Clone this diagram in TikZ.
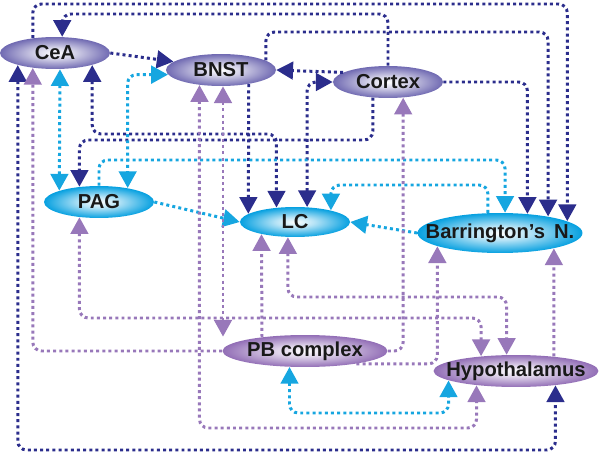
\documentclass[tikz,border=0pt]{standalone}
\usepackage{fontspec}
\setmainfont{Liberation Sans}
\usepackage{tikz}
\usetikzlibrary{arrows.meta,shapes.geometric}
\definecolor{navyln}{RGB}{43,45,140}
\definecolor{cyanln}{RGB}{22,166,224}
\definecolor{lilacln}{RGB}{152,120,186}
\definecolor{slateel}{RGB}{112,106,178}
\definecolor{violetel}{RGB}{146,110,182}
\definecolor{cyanel}{RGB}{6,160,224}
\colorlet{slatelt}{white!70!slateel}
\colorlet{violetlt}{white!70!violetel}
\colorlet{cyanlt}{white!70!cyanel}
\pgfdeclareradialshading{slateglow}{\pgfpoint{0bp}{0bp}}{color(0bp)=(white); color(9bp)=(slatelt); color(25bp)=(slateel); color(50bp)=(slateel)}
\pgfdeclareradialshading{violetglow}{\pgfpoint{0bp}{0bp}}{color(0bp)=(white); color(9bp)=(violetlt); color(25bp)=(violetel); color(50bp)=(violetel)}
\pgfdeclareradialshading{cyanglow}{\pgfpoint{0bp}{0bp}}{color(0bp)=(white); color(9bp)=(cyanlt); color(25bp)=(cyanel); color(50bp)=(cyanel)}
\tikzset{
  >={Triangle[width=10pt,length=9.5pt]},
  area/.style={ellipse, inner sep=0pt, minimum width=2.2cm, minimum height=0.64cm},
  wide/.style={minimum width=3.3cm},
  lbl/.style={font=\bfseries\fontsize{11.5}{13}\selectfont, text=black!90},
  wire/.style={line width=1.7pt, dash pattern=on 1.7pt off 1.8pt, rounded corners=5pt},
  nv/.style={wire, navyln},
  cy/.style={wire, cyanln},
  pu/.style={wire, lilacln}
}

\begin{document}
\begin{tikzpicture}[x=0.02cm, y=-0.02cm]
\useasboundingbox (0,0) rectangle (600,453);

\node[area, shading=slateglow, label={[lbl]center:CeA}] (cea) at (55,53) {};
\node[area, shading=slateglow, label={[lbl]center:BNST}] (bnst) at (221,70) {};
\node[area, shading=slateglow, label={[lbl]center:Cortex}] (ctx) at (388,82) {};
\node[area, shading=cyanglow, label={[lbl]center:PAG}] (pag) at (99,202) {};
\node[area, shading=cyanglow, minimum height=0.6cm, label={[lbl]center:LC}] (lc) at (295,222) {};
\node[area, wide, shading=cyanglow, minimum height=0.8cm, label={[lbl]center:Barrington’s\hspace{0.45em}N.}] (bar) at (500,233) {};
\node[area, wide, shading=violetglow, label={[lbl]center:PB complex}] (pb) at (305,351) {};
\node[area, wide, shading=violetglow, label={[lbl]center:Hypothalamus}] (hyp) at (516,371) {};

\draw[nv,->] (cea.146) |- (300,4) -| (bar.10);
\draw[nv,->] (ctx.north) |- (200,14) -| (cea.66);
\draw[nv,->] (bnst.12) |- (400,32) -| (bar.19);
\draw[nv,->] (cea.east) -- (bnst.170);
\draw[nv,->] (ctx.168) -- (bnst.east);
\draw[nv,<->] (lc.51) |- (ctx.west);
\draw[nv,->] (ctx.east) -| (bar.35);
\draw[nv,->] (ctx.-134) |- (200,140) -| (pag.142);
\draw[nv,<->] (cea.-18) |- (200,134) -| (lc.142);
\draw[nv,->] (bnst.-27) -- (lc.170);
\draw[nv,<->] (cea.198) |- (300,450) -| (hyp.-20);

\draw[cy,->] (pag.east) -- (lc.west);
\draw[cy,->] (bar.west) -- (lc.east);
\draw[cy,<->] (cea.-73) -- (pag.164);
\draw[cy,<->] (bnst.185) -| (pag.26);
\draw[cy,->] (pag.north) |- (300,160) -| (bar.76);
\draw[cy,->] (bar.121) |- (400,185) -| (lc.18);
\draw[cy,<->] (pb.-134) |- (400,413) -| (hyp.-172);

\draw[pu,->] (pb.west) -| (cea.214);
\draw[pu,<->] (pag.-142) |- (300,318) -| (hyp.157);
\draw[pu,<->] (lc.-115) |- (400,297) -| (hyp.120);
\draw[pu,->] (pb.162) -- (lc.-160);
\draw[pu,<->] (bnst.-83) -- (bnst.-83 |- pb.160);
\draw[pu,<->] (bnst.-145) |- (300,428) -| (hyp.-160);
\draw[pu,->] (pb.east) -| (ctx.-46);
\draw[pu,->] (pb.-14) -| (bar.-168);
\draw[pu,->] (hyp.21) -- (bar.-16);
\end{tikzpicture}
\end{document}
